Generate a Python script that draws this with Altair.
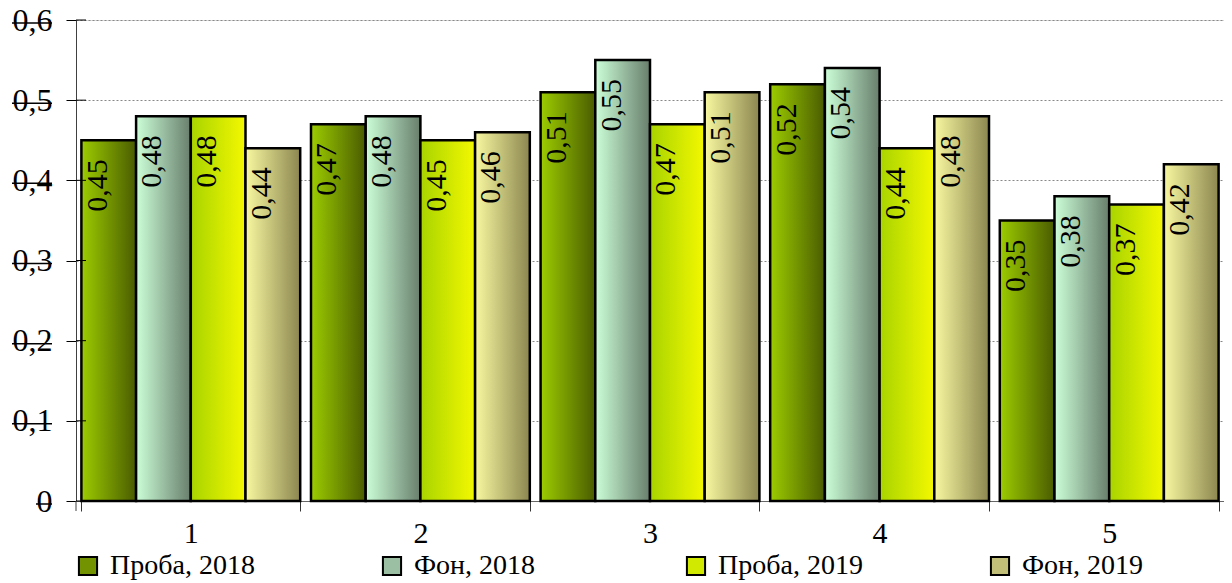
import altair as alt
import pandas as pd

categories = ["1", "2", "3", "4", "5"]
series = ["Проба, 2018", "Фон, 2018", "Проба, 2019", "Фон, 2019"]
proba_2018 = [0.45, 0.47, 0.51, 0.52, 0.35]
fon_2018 = [0.48, 0.48, 0.55, 0.54, 0.38]
proba_2019 = [0.48, 0.45, 0.47, 0.44, 0.37]
fon_2019 = [0.44, 0.46, 0.51, 0.48, 0.42]
y_ticks = [0, 0.1, 0.2, 0.3, 0.4, 0.5, 0.6]

gradients = {
    "Проба, 2018": ("#9ccc00", "#4a5c00"),
    "Фон, 2018": ("#ccffd8", "#687e6c"),
    "Проба, 2019": ("#a8d400", "#f4f800"),
    "Фон, 2019": ("#f8f8a0", "#8c8650"),
}
solid = ["#739400", "#9abfa2", "#d1e800", "#c2bf78"]

values = [proba_2018, fon_2018, proba_2019, fon_2019]
rows = []
for s, vals in zip(series, values):
    for c, v in zip(categories, vals):
        rows.append({"cat": c, "series": s, "value": v,
                     "label": f"{v:.2f}".replace(".", ",")})
df = pd.DataFrame(rows)

ticks_df = pd.DataFrame({"t": y_ticks})
ticks_nz = pd.DataFrame({"t": [t for t in y_ticks if t != 0]})
ticks_z = pd.DataFrame({"t": [t for t in y_ticks if t == 0]})

FONT = "Liberation Serif, Times New Roman, serif"

x_axis = alt.Axis(title=None, labelFontSize=30, labelFont=FONT, labelColor="black",
                  tickBand="extent", tickSize=10, tickColor="#333333",
                  domainColor="#666666", labelPadding=7, grid=False, labelAngle=0)
y_axis = alt.Axis(title=None, values=y_ticks, labelFontSize=32, labelFont=FONT,
                  labelColor="black",
                  labelExpr="datum.value == 0 ? '0' : replace(format(datum.value, '.1f'), '.', ',')",
                  tickSize=10, tickColor="black", domainColor="#404040",
                  labelPadding=14, grid=True, gridColor="#888888", gridDash=[2, 2],
                  gridWidth=1)

x_enc = alt.X("cat:N", scale=alt.Scale(domain=categories, paddingInner=0.047,
                                        paddingOuter=0.0235), axis=x_axis)
xo_enc = alt.XOffset("series:N", scale=alt.Scale(domain=series, paddingInner=0,
                                                   paddingOuter=0))
y_scale = alt.Scale(domain=[0, 0.6], nice=False, zero=True)
y_enc = alt.Y("value:Q", scale=y_scale, axis=y_axis)


def grad(s):
    a, b = gradients[s]
    return {"gradient": "linear", "x1": 0, "y1": 0, "x2": 1, "y2": 0,
            "stops": [{"offset": 0, "color": a}, {"offset": 1, "color": b}]}


legend = alt.Legend(orient="none", legendX=-2, legendY=532, direction="horizontal",
                    columns=4, title=None, symbolType="square", symbolSize=330,
                    symbolStrokeColor="black", symbolStrokeWidth=2, symbolOpacity=1,
                    labelFontSize=28, labelFont=FONT, labelColor="black",
                    labelOffset=8, columnPadding=123, labelLimit=400,
                    gridAlign="all", padding=0)

base = alt.Chart(df).mark_bar().encode(
    x=x_enc, xOffset=xo_enc, y=y_enc,
    color=alt.Color("series:N", scale=alt.Scale(domain=series, range=solid),
                    legend=legend),
)

layers = [base]
for s in series:
    layers.append(
        alt.Chart(df).transform_filter(alt.datum.series == s)
        .mark_bar(fill=grad(s), stroke="black", strokeWidth=2.5)
        .encode(x=x_enc, xOffset=xo_enc, y=y_enc)
    )

labels = alt.Chart(df).mark_text(angle=270, align="right", baseline="alphabetic",
                                 dx=-19, dy=-2, fontSize=30, font=FONT,
                                 color="black").encode(
    x=x_enc, xOffset=xo_enc, y=y_enc, text="label:N")
layers.append(labels)

y_t = alt.Y("t:Q", scale=y_scale, axis=y_axis)
inner_ticks = alt.Chart(ticks_df).mark_rule(color="black", strokeWidth=1).encode(
    y=y_t, x=alt.value(0), x2=alt.value(10))
strike_nz = alt.Chart(ticks_nz).mark_rule(color="black", strokeWidth=1.5,
                                          yOffset=3).encode(
    y=y_t, x=alt.value(-64), x2=alt.value(-24))
strike_z = alt.Chart(ticks_z).mark_rule(color="black", strokeWidth=1.5,
                                        yOffset=3).encode(
    y=y_t, x=alt.value(-40), x2=alt.value(-24))
axis_ext = alt.Chart(ticks_z).mark_rule(color="#404040", strokeWidth=1).encode(
    y=y_t, y2=alt.value(491), x=alt.value(0))
layers += [inner_ticks, strike_nz, strike_z, axis_ext]

chart = alt.layer(*layers).properties(
    width=1148, height=481,
    autosize=alt.AutoSizeParams(type="none"),
    padding={"left": 68, "top": 12, "right": 0, "bottom": 82},
).configure_view(stroke=None).configure(background="white")

chart.save("out.html", embed_options={"renderer": "svg", "actions": False})
